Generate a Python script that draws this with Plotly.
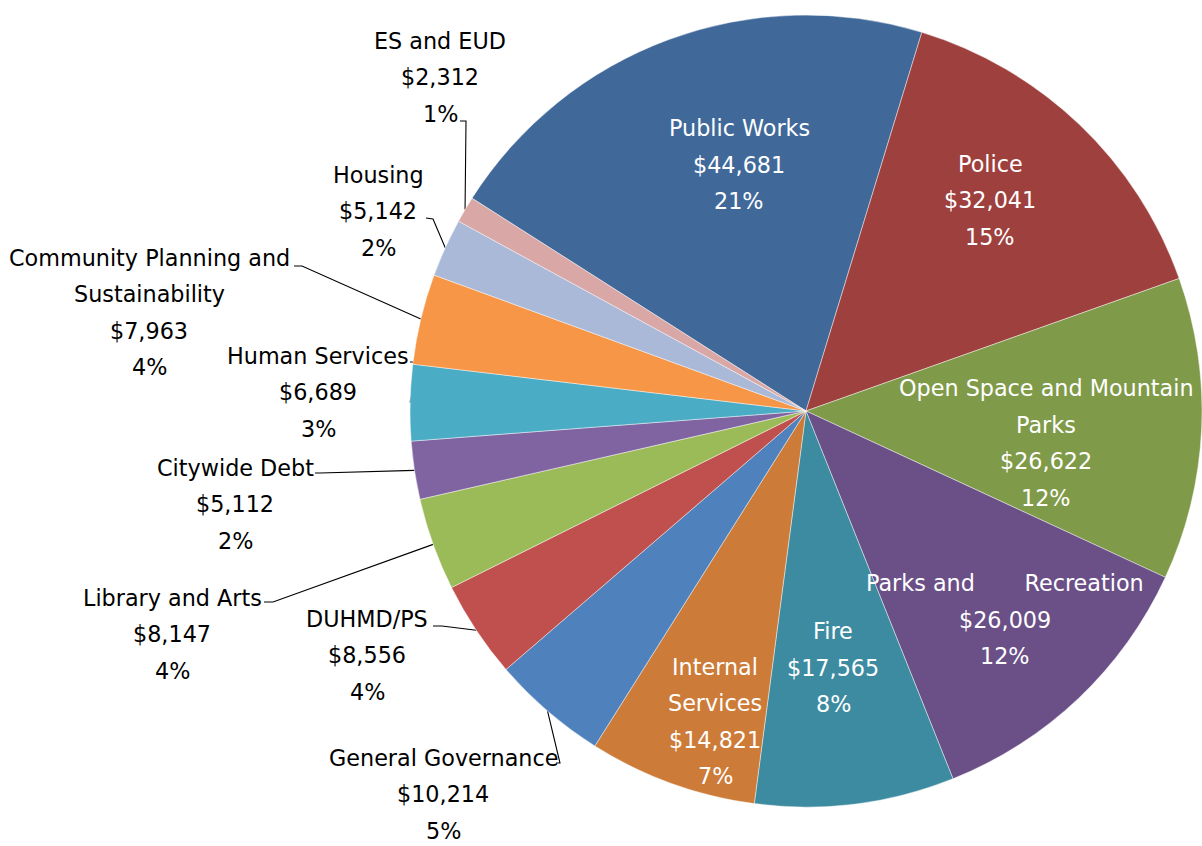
import numpy as np
import plotly.graph_objects as go

# ---------------- data ----------------
departments = [
    "Public Works", "Police", "Open Space and Mountain Parks", "Parks and Recreation",
    "Fire", "Internal Services", "General Governance", "DUHMD/PS", "Library and Arts",
    "Citywide Debt", "Human Services", "Community Planning and Sustainability",
    "Housing", "ES and EUD",
]
budget = [44681, 32041, 26622, 26009, 17565, 14821, 10214, 8556, 8147,
          5112, 6689, 7963, 5142, 2312]

# ---------------- styles / layout ----------------
colors = ["#40699A", "#9E413E", "#7F9A48", "#6A5087", "#3D8BA1", "#CC7B38",
          "#4F81BD", "#C0504D", "#9BBB59", "#8064A2", "#4BACC6", "#F79646",
          "#AAB9D7", "#D9A7A6"]

# how long names wrap in the labels
label_lines = {
    "Open Space and Mountain Parks": ["Open Space and Mountain", "Parks"],
    "Parks and Recreation": ["Parks and" + "\u00a0" * 7 + "Recreation"],
    "Internal Services": ["Internal", "Services"],
    "Community Planning and Sustainability": ["Community Planning and", "Sustainability"],
}
inside = [True] * 6 + [False] * 8

# label block anchor (centre x, first-line y) in pixels
label_anchor = [(739, 127.5), (990, 163), (1046, 387.5), (1005, 582.5),
                (833, 630.5), (715, 666), (443, 757), (367, 618), (172, 597),
                (235, 467), (318, 355), (149, 257), (378, 174), (440, 40)]
LINE_GAP = 36.6
TEXT_DY = 0.5

# leader line start + elbow (pixels) for outside labels
leader_start = {
    6: [(556, 763), (560, 763)],
    7: [(433, 626), (442, 626)],
    8: [(264, 602), (273, 602)],
    9: [(315, 473), (320, 473)],
    10: [(410, 362), (418, 362)],
    11: [(294, 266), (302, 266)],
    12: [(426, 218), (433, 219)],
    13: [(460, 121), (466, 121)],
}

W, H = 1202, 846
CX, CY, R = 806, 411, 396
ROTATION = -57.5
FONT = "DejaVu Sans"
FSIZE = 22.3

fig = go.Figure()

fig.add_trace(go.Pie(
    values=budget, labels=departments, sort=False, direction="clockwise",
    rotation=ROTATION, textinfo="none", showlegend=False,
    marker=dict(colors=colors, line=dict(color="rgba(255,255,255,0.55)", width=0.8)),
    domain=dict(x=[(CX - R) / W, (CX + R) / W],
                y=[1 - (CY + R) / H, 1 - (CY - R) / H]),
    hovertemplate="%{label}<br>$%{value:,}<br>%{percent}<extra></extra>",
))

vals = np.array(budget, dtype=float)
total = vals.sum()
starts = ROTATION + 360 * (np.cumsum(vals) - vals) / total
mids = np.radians(starts + 180 * vals / total)
pcts = np.round(100 * vals / total).astype(int)

# leader lines
for i, pts in leader_start.items():
    ex = CX + R * np.sin(mids[i])
    ey = CY - R * np.cos(mids[i])
    xs = [p[0] for p in pts] + [ex]
    ys = [p[1] for p in pts] + [ey]
    fig.add_trace(go.Scatter(x=xs, y=ys, mode="lines", line=dict(color="black", width=1.1),
                             hoverinfo="skip", showlegend=False))

annotations = []
for i, name in enumerate(departments):
    lines = label_lines.get(name, [name]) + [f"${budget[i]:,}", f"{pcts[i]}%"]
    ax, ay = label_anchor[i]
    for j, line in enumerate(lines):
        annotations.append(dict(
            x=ax, y=ay + j * LINE_GAP + TEXT_DY, xref="x", yref="y", text=line,
            showarrow=False, xanchor="center", yanchor="middle",
            font=dict(family=FONT, size=FSIZE, color="white" if inside[i] else "black"),
        ))

fig.update_layout(
    width=W, height=H, margin=dict(l=0, r=0, t=0, b=0),
    paper_bgcolor="white", plot_bgcolor="rgba(0,0,0,0)",
    xaxis=dict(range=[0, W], visible=False, fixedrange=True, domain=[0, 1]),
    yaxis=dict(range=[H, 0], visible=False, fixedrange=True, domain=[0, 1]),
    annotations=annotations,
)

fig.write_html(
    "out.html",
    config={"displayModeBar": False},
    post_script="document.body.style.margin='0';document.body.style.overflow='hidden';",
)
